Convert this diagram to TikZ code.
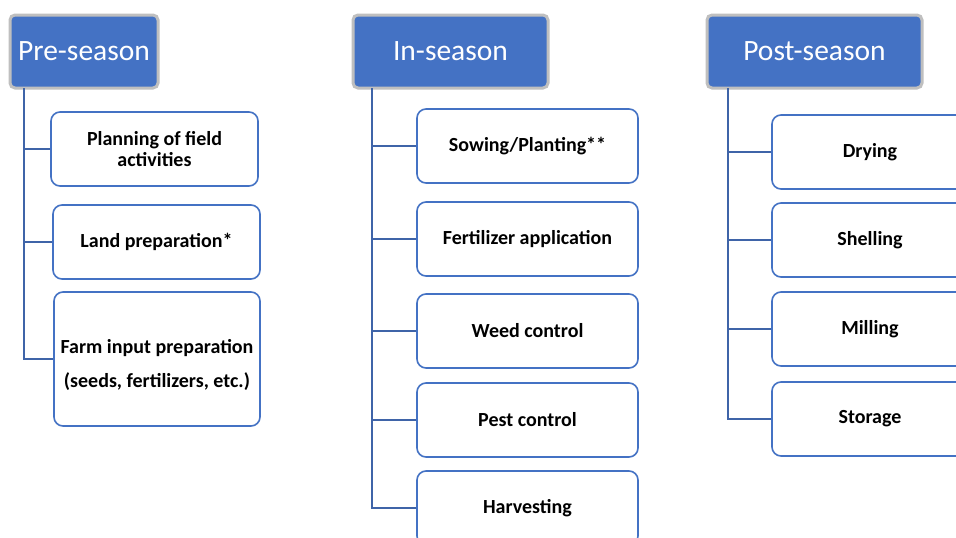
\documentclass[tikz,border=0pt]{standalone}
\usepackage{fontspec}
\setmainfont{Carlito}
\definecolor{hdrblue}{HTML}{4472C4}
\definecolor{hdrgray}{HTML}{BFBFBF}
\definecolor{boxblue}{HTML}{4472C4}
\definecolor{linblue}{HTML}{3F64A8}
\begin{document}
\begin{tikzpicture}[x=1pt,y=-1pt,
  hdr/.style={draw=hdrgray,line width=3pt,fill=hdrblue,rounded corners=5pt,text=white,font=\fontsize{29.5}{34}\selectfont,inner sep=0pt},
  item/.style={draw=boxblue,line width=1.6pt,fill=white,rounded corners=9pt,font=\bfseries\fontsize{20}{24}\selectfont,align=center,inner sep=0pt},
  conn/.style={draw=linblue,line width=2pt}]
\useasboundingbox (0,0) rectangle (956,538);
\clip (0,0) rectangle (956,538);
\fill[white] (0,0) rectangle (956,538);
% headers
\node[hdr,minimum width=148pt,minimum height=73pt] (pre) at (84,51.5) {Pre-season};
\node[hdr,minimum width=195pt,minimum height=73pt] (ins) at (450.5,51.5) {In-season};
\node[hdr,minimum width=215pt,minimum height=73pt] (post) at (814.5,51.5) {Post-season};
% pre-season items
\node[item,minimum width=207pt,minimum height=74pt] (p1) at (154.5,149) {Planning of field\\[-3pt]activities};
\node[item,minimum width=207pt,minimum height=74pt] (p2) at (156.5,242) {Land preparation*};
\node[item,minimum width=206pt,minimum height=134pt,text depth=0pt] (p3) at (157,359) {\raisebox{10pt}{\begin{tabular}{@{}c@{}}Farm input preparation\\[10pt](seeds, fertilizers, etc.)\end{tabular}}};
% in-season items
\node[item,minimum width=221pt,minimum height=74pt] (i1) at (527.5,146) {Sowing/Planting**};
\node[item,minimum width=221pt,minimum height=74pt] (i2) at (527.5,239) {Fertilizer application};
\node[item,minimum width=221pt,minimum height=74pt] (i3) at (527.5,331) {Weed control};
\node[item,minimum width=221pt,minimum height=74pt] (i4) at (527.5,420) {Pest control};
\node[item,minimum width=221pt,minimum height=74pt] (i5) at (527.5,508) {Harvesting};
% post-season items
\node[item,minimum width=196pt,minimum height=74pt] (q1) at (870,152) {Drying};
\node[item,minimum width=196pt,minimum height=74pt] (q2) at (870,240) {Shelling};
\node[item,minimum width=196pt,minimum height=74pt] (q3) at (870,329) {Milling};
\node[item,minimum width=196pt,minimum height=74pt] (q4) at (870,419) {Storage};
% connectors
\coordinate (pv) at ([xshift=15pt,yshift=1.5pt]pre.south west);
\coordinate (iv) at ([xshift=20pt,yshift=1.5pt]ins.south west);
\coordinate (qv) at ([xshift=22pt,yshift=1.5pt]post.south west);
\draw[conn] (pv) |- (p3.west);
\draw[conn] (p1.west) -- (p1.west -| pv);
\draw[conn] (p2.west) -- (p2.west -| pv);
\draw[conn] (iv) |- (i5.west);
\foreach \n in {i1,i2,i3,i4} \draw[conn] (\n.west) -- (\n.west -| iv);
\draw[conn] (qv) |- (q4.west);
\foreach \n in {q1,q2,q3} \draw[conn] (\n.west) -- (\n.west -| qv);
\end{tikzpicture}
\end{document}
